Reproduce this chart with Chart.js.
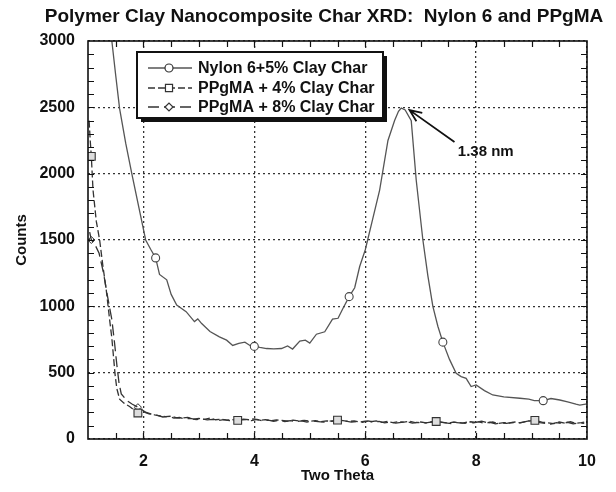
<!DOCTYPE html>
<html>
<head>
<meta charset="utf-8">
<script src="https://cdn.jsdelivr.net/npm/chart.js@4.4.0/dist/chart.umd.min.js"></script>
<style>
  html, body { margin: 0; padding: 0; background: #fff; }
  #wrap { width: 616px; height: 492px; }
</style>
</head>
<body>
<div id="wrap"><canvas id="chart" width="616" height="492"></canvas></div>
<script>
// values
const chartTitle = 'Polymer Clay Nanocomposite Char XRD:  Nylon 6 and PPgMA';
const xTitle = 'Two Theta';
const yTitle = 'Counts';
const seriesNames = ['Nylon 6+5% Clay Char', 'PPgMA + 4% Clay Char', 'PPgMA + 8% Clay Char'];
const xTicks = [2, 4, 6, 8, 10];
const yTicks = [0, 500, 1000, 1500, 2000, 2500, 3000];

const nylonTheta = [1.38, 1.43, 1.50, 1.57, 1.68, 1.79, 1.92, 2.04, 2.13, 2.22, 2.29, 2.42, 2.50, 2.60, 2.77,
  2.92, 2.98, 3.05, 3.20, 3.37, 3.50, 3.61, 3.72, 3.83, 3.92, 4.00, 4.10, 4.22, 4.35, 4.49, 4.60, 4.69,
  4.82, 4.92, 5.00, 5.12, 5.27, 5.41, 5.51, 5.60, 5.71, 5.81, 5.90, 6.00, 6.13, 6.26, 6.41, 6.53, 6.60,
  6.65, 6.72, 6.83, 6.92, 7.04, 7.13, 7.22, 7.31, 7.40, 7.52, 7.64, 7.73, 7.82, 7.91, 8.00, 8.15, 8.30,
  8.50, 8.79, 8.95, 9.05, 9.21, 9.35, 9.51, 9.65, 9.80, 9.87, 10.00];
const nylonCounts = [3250, 3000, 2740, 2490, 2230, 2000, 1740, 1500, 1430, 1365, 1240, 1200, 1090, 1010, 960,
  885, 905, 870, 810, 770, 745, 705, 720, 730, 705, 698, 690, 682, 680, 682, 702, 678,
  738, 745, 723, 790, 808, 903, 910, 985, 1073, 1140, 1300, 1425, 1650, 1876, 2250, 2400, 2470,
  2495, 2480, 2400, 1950, 1500, 1230, 1000, 850, 730, 600, 495, 470, 457, 395, 407, 365, 332,
  318, 307, 300, 290, 289, 305, 294, 280, 262, 256, 265];
const nylonMarks = [2.22, 4.00, 5.71, 7.40, 9.21];

const pp4Theta = [1.02, 1.04, 1.06, 1.09, 1.15, 1.21, 1.27, 1.33, 1.39, 1.43, 1.46, 1.49, 1.52, 1.57, 1.65,
  1.75, 1.90, 2.0, 2.1, 2.2, 2.3, 2.4, 2.5, 2.6, 2.7, 2.8, 2.9, 3.0, 3.1, 3.2, 3.3, 3.4, 3.5, 3.6,
  3.7, 3.8, 3.9, 4.0, 4.1, 4.2, 4.3, 4.4, 4.5, 4.6, 4.7, 4.8, 4.9, 5.0, 5.1, 5.2, 5.3, 5.4, 5.5,
  5.6, 5.7, 5.8, 5.9, 6.0, 6.1, 6.2, 6.3, 6.4, 6.5, 6.6, 6.7, 6.8, 6.9, 7.0, 7.1, 7.2, 7.28, 7.4,
  7.5, 7.6, 7.7, 7.8, 7.9, 8.0, 8.1, 8.2, 8.3, 8.4, 8.5, 8.6, 8.7, 8.8, 8.9, 9.06, 9.2, 9.3, 9.4,
  9.5, 9.6, 9.7, 9.8, 9.9, 10.0];
const pp4Counts = [2400, 2250, 2130, 1880, 1640, 1500, 1300, 1120, 900, 760, 620, 480, 380, 300, 270,
  245, 196, 205, 190, 182, 175, 168, 172, 160, 158, 163, 150, 155, 148, 158, 145, 150, 142, 147,
  140, 150, 145, 152, 140, 146, 138, 144, 140, 135, 142, 136, 140, 134, 138, 130, 137, 133, 142,
  138, 132, 136, 128, 134, 130, 136, 126, 132, 124, 130, 127, 133, 124, 128, 122, 130, 132, 126,
  120, 128, 124, 118, 130, 126, 134, 122, 128, 118, 124, 120, 128, 122, 132, 140, 126, 122, 116,
  128, 120, 130, 118, 124, 132];
const pp4Marks = [1.06, 1.90, 3.7, 5.5, 7.28, 9.06];

const pp8Theta = [1.03, 1.06, 1.12, 1.20, 1.28, 1.35, 1.43, 1.48, 1.52, 1.56, 1.60, 1.70, 1.80, 1.90,
  2.05, 2.15, 2.25, 2.35, 2.45, 2.55, 2.65, 2.75, 2.85, 2.95, 3.05, 3.15, 3.25, 3.35, 3.45, 3.55,
  3.7, 3.85, 3.95, 4.05, 4.15, 4.25, 4.35, 4.45, 4.55, 4.65, 4.75, 4.85, 4.95, 5.05, 5.15, 5.25,
  5.35, 5.5, 5.65, 5.75, 5.85, 5.95, 6.05, 6.15, 6.25, 6.35, 6.45, 6.55, 6.65, 6.75, 6.85, 6.95,
  7.05, 7.15, 7.28, 7.45, 7.55, 7.65, 7.75, 7.85, 7.95, 8.05, 8.15, 8.25, 8.35, 8.45, 8.55, 8.65,
  8.75, 8.85, 8.95, 9.06, 9.15, 9.25, 9.35, 9.45, 9.55, 9.65, 9.75, 9.85, 9.95];
const pp8Counts = [1560, 1500, 1470, 1400, 1250, 1080, 900, 720, 560, 420, 340, 290, 262, 240,
  200, 186, 178, 166, 170, 158, 162, 152, 156, 146, 152, 144, 148, 140, 146, 138,
  142, 146, 138, 148, 136, 142, 134, 140, 132, 138, 130, 136, 128, 135, 131, 127,
  134, 140, 134, 128, 132, 126, 136, 128, 132, 122, 128, 120, 126, 130, 120, 126,
  118, 126, 130, 122, 116, 124, 120, 128, 122, 130, 118, 126, 114, 122, 118, 126,
  120, 128, 136, 142, 124, 118, 112, 124, 116, 126, 114, 120, 118];
const pp8Marks = [1.06, 1.90, 3.7, 5.5, 7.28, 9.06];

// arrow and label for the peak
const arrowTail = { x: 7.61, y: 2238 };
const arrowTip = { x: 6.80, y: 2479 };
const peakText = { x: 7.67, y: 2163, text: '1.38 nm' };

const FONT = 'Liberation Sans, Arial, sans-serif';

function toPoints(xs, ys) {
  return xs.map((x, i) => ({ x: x, y: ys[i] }));
}
function markRadius(marks, r) {
  return function(ctx) {
    const p = ctx.raw;
    if (!p) return 0;
    return marks.some(m => Math.abs(m - p.x) < 0.001) ? r : 0;
  };
}

const extras = {
  id: 'extras',
  afterDraw(chart) {
    const ctx = chart.ctx;
    const area = chart.chartArea;
    const xs = chart.scales.x, ys = chart.scales.y;
    ctx.save();

    // frame
    ctx.strokeStyle = '#111';
    ctx.lineWidth = 1.6;
    ctx.setLineDash([]);
    ctx.strokeRect(area.left, area.top, area.right - area.left, area.bottom - area.top);

    // inward ticks (minor every 0.5 / 100)
    ctx.lineWidth = 1.2;
    ctx.beginPath();
    for (let v = 1.5; v < 10; v += 0.5) {
      const px = Math.round(xs.getPixelForValue(v)) + 0.5;
      ctx.moveTo(px, area.bottom); ctx.lineTo(px, area.bottom - 6);
      ctx.moveTo(px, area.top); ctx.lineTo(px, area.top + 6);
    }
    for (let v = 100; v < 3000; v += 100) {
      const py = Math.round(ys.getPixelForValue(v)) + 0.5;
      ctx.moveTo(area.left, py); ctx.lineTo(area.left + 6, py);
      ctx.moveTo(area.right, py); ctx.lineTo(area.right - 6, py);
    }
    ctx.stroke();

    // title
    ctx.fillStyle = '#111';
    ctx.font = 'bold 19px ' + FONT;
    ctx.textAlign = 'center';
    ctx.textBaseline = 'middle';
    ctx.fillText(chartTitle, 324, 17);

    // peak arrow
    const tx = xs.getPixelForValue(arrowTail.x), ty = ys.getPixelForValue(arrowTail.y);
    const hx = xs.getPixelForValue(arrowTip.x), hy = ys.getPixelForValue(arrowTip.y);
    ctx.strokeStyle = '#111';
    ctx.lineWidth = 1.8;
    ctx.beginPath();
    ctx.moveTo(tx, ty); ctx.lineTo(hx, hy);
    const ang = Math.atan2(hy - ty, hx - tx);
    ctx.moveTo(hx - 13 * Math.cos(ang - 0.4), hy - 13 * Math.sin(ang - 0.4));
    ctx.lineTo(hx, hy);
    ctx.lineTo(hx - 13 * Math.cos(ang + 0.4), hy - 13 * Math.sin(ang + 0.4));
    ctx.stroke();
    ctx.font = 'bold 15px ' + FONT;
    ctx.textAlign = 'left';
    ctx.fillText(peakText.text, xs.getPixelForValue(peakText.x), ys.getPixelForValue(peakText.y));

    // legend box with drop shadow
    const lx = 137, ly = 52, lw = 246, lh = 66;
    ctx.fillStyle = '#111';
    ctx.fillRect(lx + 4, ly + 4, lw, lh);
    ctx.fillStyle = '#fff';
    ctx.fillRect(lx, ly, lw, lh);
    ctx.strokeStyle = '#111';
    ctx.lineWidth = 2;
    ctx.strokeRect(lx, ly, lw, lh);

    const rows = [68, 88, 107];
    chart.data.datasets.forEach((ds, i) => {
      const y = rows[i];
      ctx.strokeStyle = ds.borderColor;
      ctx.lineWidth = 1.3;
      ctx.setLineDash(ds.borderDash || []);
      ctx.beginPath();
      ctx.moveTo(148, y); ctx.lineTo(192, y);
      ctx.stroke();
      ctx.setLineDash([]);
      Chart.helpers.drawPoint(ctx, {
        pointStyle: ds.pointStyle, radius: ds.legendRadius, borderWidth: 1.2
      }, 169, y);
      ctx.fillStyle = '#111';
      ctx.font = 'bold 16px ' + FONT;
      ctx.textAlign = 'left';
      ctx.textBaseline = 'middle';
      ctx.fillText(ds.label, 198, y + 1);
    });
    ctx.restore();
  }
};

// drawPoint needs fill/stroke style on ctx
const _drawPoint = Chart.helpers.drawPoint;
Chart.helpers.drawPoint = function(ctx, opts, x, y) {
  ctx.fillStyle = '#fff';
  ctx.strokeStyle = '#333';
  ctx.lineWidth = opts.borderWidth;
  _drawPoint(ctx, opts, x, y);
};

const tickFont = { family: FONT, size: 16, weight: 'bold' };

new Chart(document.getElementById('chart'), {
  type: 'line',
  data: {
    datasets: [
      {
        label: seriesNames[0],
        data: toPoints(nylonTheta, nylonCounts),
        borderColor: '#555', borderWidth: 1.3,
        pointStyle: 'circle', legendRadius: 4,
        pointRadius: markRadius(nylonMarks, 4),
        pointBackgroundColor: '#fff', pointBorderColor: '#444', pointBorderWidth: 1.1
      },
      {
        label: seriesNames[1],
        data: toPoints(pp4Theta, pp4Counts),
        borderColor: '#333', borderWidth: 1.3, borderDash: [7, 3],
        pointStyle: 'rect', legendRadius: 5,
        pointRadius: markRadius(pp4Marks, 5.5),
        pointBackgroundColor: '#ddd', pointBorderColor: '#333', pointBorderWidth: 1.1
      },
      {
        label: seriesNames[2],
        data: toPoints(pp8Theta, pp8Counts),
        borderColor: '#333', borderWidth: 1.3, borderDash: [11, 5],
        pointStyle: 'rectRot', legendRadius: 4,
        pointRadius: markRadius(pp8Marks, 3.5),
        pointBackgroundColor: 'rgba(255,255,255,0)', pointBorderColor: '#333', pointBorderWidth: 1
      }
    ]
  },
  options: {
    responsive: false,
    animation: false,
    layout: { padding: { left: 0, top: 41, right: 29, bottom: 0 } },
    plugins: {
      legend: { display: false },
      title: { display: false },
      tooltip: { enabled: false }
    },
    elements: { line: { tension: 0 } },
    scales: {
      x: {
        type: 'linear', min: 1, max: 10,
        afterBuildTicks: s => { s.ticks = xTicks.map(v => ({ value: v })); },
        afterFit: s => { s.height = 53; },
        grid: { color: '#333', lineWidth: 1.3, drawTicks: false },
        border: { display: false, dash: [2, 3] },
        ticks: { color: '#111', padding: 13, font: tickFont, callback: v => String(v) },
        title: { display: true, text: xTitle, color: '#111', padding: { top: 0, bottom: 7 },
          font: { family: FONT, size: 15, weight: 'bold' } }
      },
      y: {
        type: 'linear', min: 0, max: 3000,
        afterBuildTicks: s => { s.ticks = yTicks.map(v => ({ value: v })); },
        afterFit: s => { s.width = 88; },
        grid: { color: '#333', lineWidth: 1.3, drawTicks: false },
        border: { display: false, dash: [2, 3] },
        ticks: { color: '#111', padding: 13, font: tickFont, callback: v => String(v) },
        title: { display: true, text: yTitle, color: '#111', padding: { top: 13, bottom: 0 },
          font: { family: FONT, size: 15, weight: 'bold' } }
      }
    }
  },
  plugins: [extras]
});
</script>
</body>
</html>
